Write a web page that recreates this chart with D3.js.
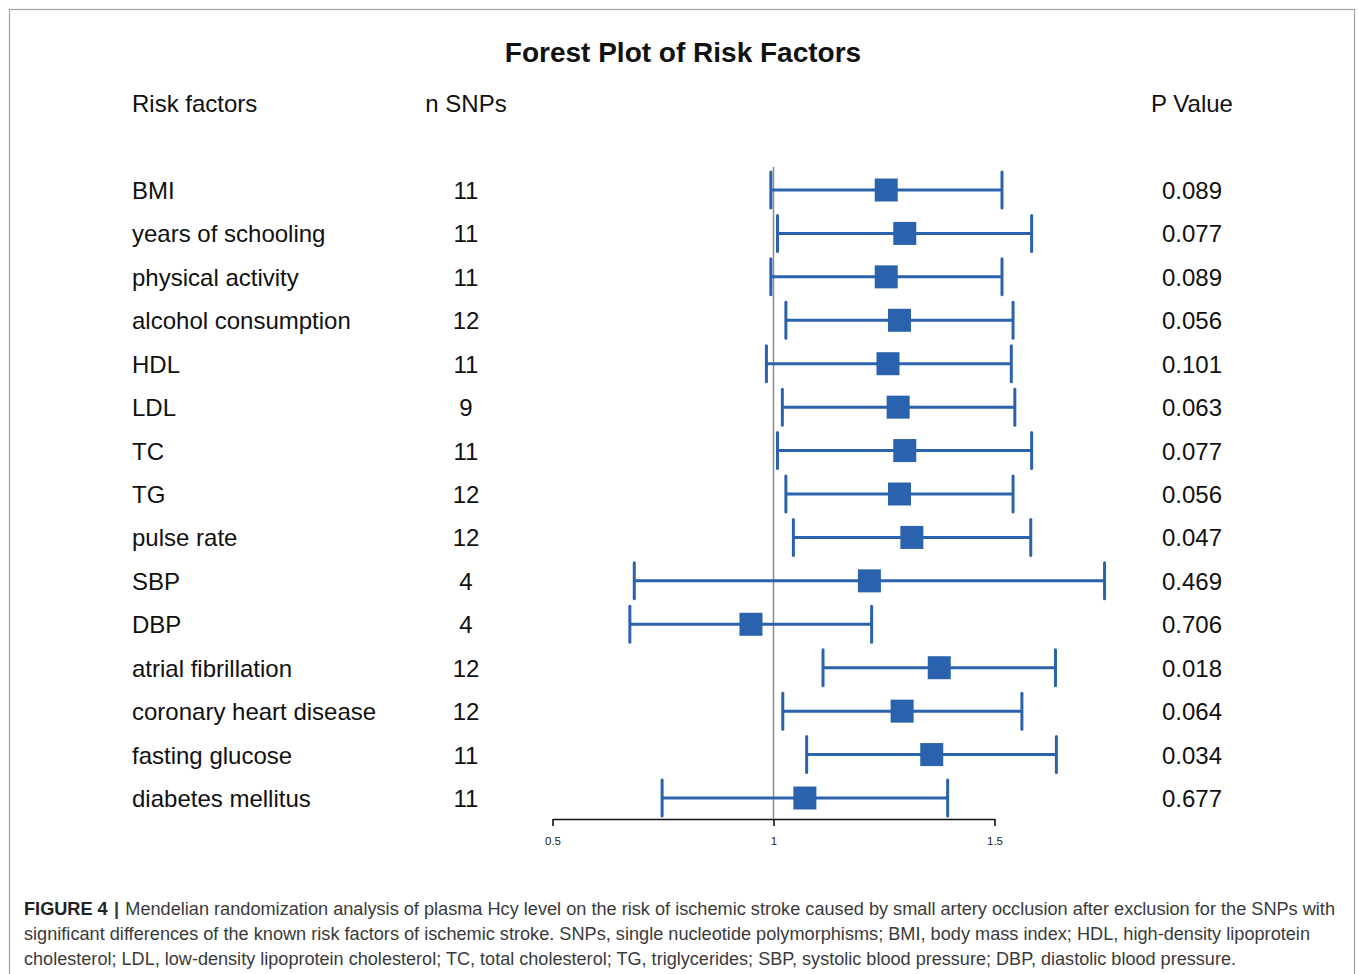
<!DOCTYPE html>
<html>
<head>
<meta charset="utf-8">
<script src="https://cdn.jsdelivr.net/npm/d3@7"></script>
<style>
  html, body { margin: 0; padding: 0; background: #fff; }
  svg { display: block; font-family: "Liberation Sans", Arial, sans-serif; }
</style>
</head>
<body>
<svg id="chart" width="1358" height="974"></svg>
<script>
// Risk factors and their Mendelian randomization estimates
const factors = ["BMI", "years of schooling", "physical activity", "alcohol consumption", "HDL", "LDL", "TC", "TG",
  "pulse rate", "SBP", "DBP", "atrial fibrillation", "coronary heart disease", "fasting glucose", "diabetes mellitus"];
const nSnps = [11, 11, 11, 12, 11, 9, 11, 12, 12, 4, 4, 12, 12, 11, 11];
const estimate = [1.255, 1.297, 1.255, 1.285, 1.259, 1.282, 1.297, 1.285, 1.313, 1.217, 0.949, 1.375, 1.291, 1.358, 1.071];
const lower = [0.994, 1.009, 0.994, 1.028, 0.984, 1.020, 1.009, 1.028, 1.045, 0.685, 0.675, 1.112, 1.021, 1.075, 0.748];
const upper = [1.517, 1.584, 1.517, 1.542, 1.538, 1.546, 1.584, 1.542, 1.582, 1.749, 1.222, 1.638, 1.562, 1.640, 1.394];
const pValues = ["0.089", "0.077", "0.089", "0.056", "0.101", "0.063", "0.077", "0.056", "0.047", "0.469", "0.706", "0.018", "0.064", "0.034", "0.677"];
const axisTicks = [0.5, 1, 1.5];
const tickLabels = ["0.5", "1", "1.5"];

const blue = "#2b62ae";
const svg = d3.select("#chart");

// Figure frame
svg.append("rect").attr("x", 9.5).attr("y", 9.5).attr("width", 1345).attr("height", 980)
  .attr("fill", "none").attr("stroke", "#a0a0a0").attr("stroke-width", 1.2);

// Title and column headers
svg.append("text").attr("x", 683).attr("y", 62).attr("text-anchor", "middle")
  .attr("font-size", 28).attr("font-weight", "bold").attr("fill", "#111").text("Forest Plot of Risk Factors");
const headers = [["Risk factors", 132, "start"], ["n SNPs", 466, "middle"], ["P Value", 1192, "middle"]];
svg.selectAll("text.hdr").data(headers).join("text").attr("class", "hdr")
  .attr("x", d => d[1]).attr("y", 112).attr("text-anchor", d => d[2])
  .attr("font-size", 24).attr("fill", "#111").text(d => d[0]);

// Scales
const x = d3.scaleLinear().domain([0.5, 1.5]).range([552.5, 994.5]);
const y = d3.scalePoint().domain(factors).range([190, 798]);

// Axis
const axisY = 819;
const axis = svg.append("g").attr("transform", `translate(0,${axisY})`)
  .call(d3.axisBottom(x).tickValues(axisTicks).tickFormat((d, i) => tickLabels[i]).tickSize(7).tickSizeOuter(0));
axis.select(".domain").attr("stroke", "#111").attr("stroke-width", 1.6);
axis.selectAll(".tick line").attr("stroke", "#111").attr("stroke-width", 1.6);
axis.selectAll(".tick text").attr("font-size", 11.5).attr("font-family", "Liberation Sans, Arial, sans-serif")
  .attr("fill", "#222").attr("y", 16).attr("dy", "0.9em");

// Null-effect reference line
svg.append("line").attr("x1", x(1)).attr("x2", x(1)).attr("y1", 167).attr("y2", axisY)
  .attr("stroke", "#8a8a8a").attr("stroke-width", 1.5);

// Rows
const rows = factors.map((f, i) => ({ f, n: nSnps[i], est: estimate[i], lo: lower[i], hi: upper[i], p: pValues[i] }));
const row = svg.selectAll("g.row").data(rows).join("g").attr("class", "row")
  .attr("transform", d => `translate(0,${y(d.f)})`);

row.append("text").attr("x", 132).attr("y", 9).attr("font-size", 24).attr("fill", "#111").text(d => d.f);
row.append("text").attr("x", 466).attr("y", 9).attr("text-anchor", "middle").attr("font-size", 24).attr("fill", "#111").text(d => d.n);
row.append("text").attr("x", 1192).attr("y", 9).attr("text-anchor", "middle").attr("font-size", 24).attr("fill", "#111").text(d => d.p);

// Confidence interval whiskers with end caps
row.append("line").attr("x1", d => x(d.lo)).attr("x2", d => x(d.hi)).attr("y1", 0).attr("y2", 0)
  .attr("stroke", blue).attr("stroke-width", 3);
row.append("line").attr("x1", d => x(d.lo)).attr("x2", d => x(d.lo)).attr("y1", -18).attr("y2", 18)
  .attr("stroke", blue).attr("stroke-width", 3).attr("stroke-linecap", "round");
row.append("line").attr("x1", d => x(d.hi)).attr("x2", d => x(d.hi)).attr("y1", -18).attr("y2", 18)
  .attr("stroke", blue).attr("stroke-width", 3).attr("stroke-linecap", "round");
// Point estimate squares
row.append("rect").attr("x", d => x(d.est) - 11.5).attr("y", -11.5).attr("width", 23).attr("height", 23)
  .attr("fill", blue);

// Figure caption
const caption = [
  { y: 915, len: 1311, bold: "FIGURE 4", rest: "Mendelian randomization analysis of plasma Hcy level on the risk of ischemic stroke caused by small artery occlusion after exclusion for the SNPs with" },
  { y: 940, len: 1286, bold: null, rest: "significant differences of the known risk factors of ischemic stroke. SNPs, single nucleotide polymorphisms; BMI, body mass index; HDL, high-density lipoprotein" },
  { y: 965, len: 1212, bold: null, rest: "cholesterol; LDL, low-density lipoprotein cholesterol; TC, total cholesterol; TG, triglycerides; SBP, systolic blood pressure; DBP, diastolic blood pressure." }
];
caption.forEach(c => {
  const t = svg.append("text").attr("x", 24).attr("y", c.y).attr("font-size", 17.5).attr("fill", "#3a3a3a")
    .attr("textLength", c.len).attr("lengthAdjust", "spacingAndGlyphs");
  if (c.bold) {
    t.append("tspan").attr("font-weight", "bold").attr("fill", "#222").text(c.bold);
    t.append("tspan").attr("font-weight", "bold").attr("dx", 6).text("|");
    t.append("tspan").attr("dx", 6).text(c.rest);
  } else {
    t.append("tspan").text(c.rest);
  }
});
</script>
</body>
</html>
